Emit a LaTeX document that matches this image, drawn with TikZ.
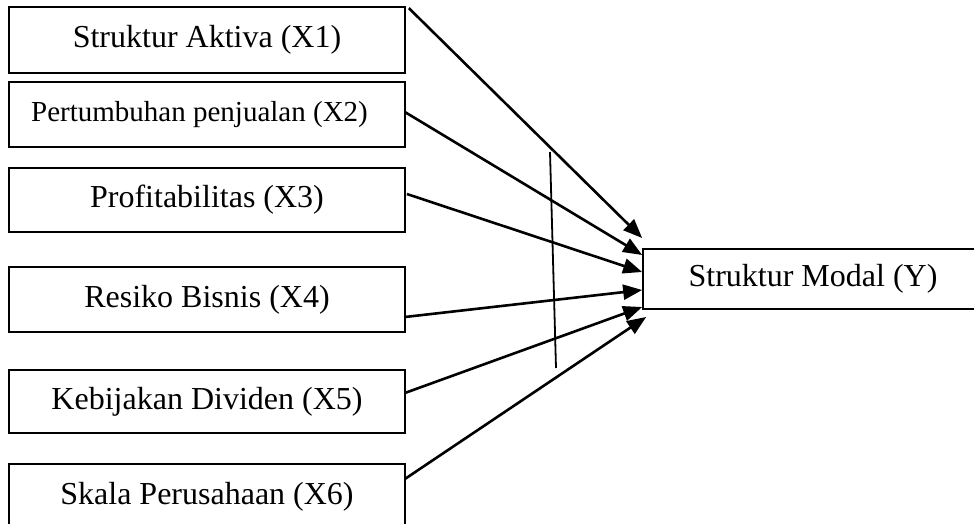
\documentclass[tikz,border=0pt]{standalone}
\usepackage{fontspec}
\setmainfont{Liberation Serif}
\usetikzlibrary{arrows.meta,calc}
\tikzset{
  varbox/.style={draw, line width=1.7pt, minimum width=396pt, inner sep=0pt, font=\fontsize{32}{38}\selectfont},
  link/.style={line width=2.6pt, -{Triangle[length=19pt,width=15pt]}, shorten >=0pt},
  divider/.style={line width=1.8pt}
}
\begin{document}
\begin{tikzpicture}[x=1pt,y=-1pt]
\clip (0,0) rectangle (974,524);
\useasboundingbox (0,0) rectangle (974,524);
\node[varbox, minimum height=66pt] (x1) at (207,40) {Struktur Aktiva (X1)};
\node[varbox, minimum height=65pt, font=\fontsize{29}{35}\selectfont] (x2) at (207,114.5) {\hspace*{-15pt}Pertumbuhan penjualan (X2)};
\node[varbox, minimum height=64pt] (x3) at (207,200) {Profitabilitas (X3)};
\node[varbox, minimum height=65pt] (x4) at (207,299.5) {Resiko Bisnis (X4)};
\node[varbox, minimum height=63pt] (x5) at (207,401.5) {Kebijakan Dividen (X5)};
\node[varbox, minimum height=65pt] (x6) at (207,496.5) {Skala Perusahaan (X6)};
\node[varbox, minimum width=340pt, minimum height=60pt] (y) at (813,279) {Struktur Modal (Y)};
\draw[link] ($(x1.north east)+(3,2)$) -- ($(y.west)+(0,-41)$);
\draw[link] ($(x2.east)+(-1,-2.5)$) -- ($(y.west)+(0,-24)$);
\draw[link] ($(x3.east)+(1,-6)$) -- ($(y.west)+(0,-7)$);
\draw[link] ($(x4.east)+(-1,17.5)$) -- ($(y.west)+(0,11)$);
\draw[link] ($(x5.east)+(-1,-8.5)$) -- ($(y.west)+(0,28)$);
\draw[link] ($(x6.east)+(-1,-17.5)$) -- ($(y.west)+(4,38)$);
\coordinate (vtop) at (550,152);
\coordinate (vbot) at (556,368);
\draw[divider] (vtop) -- (vbot);
\end{tikzpicture}
\end{document}
